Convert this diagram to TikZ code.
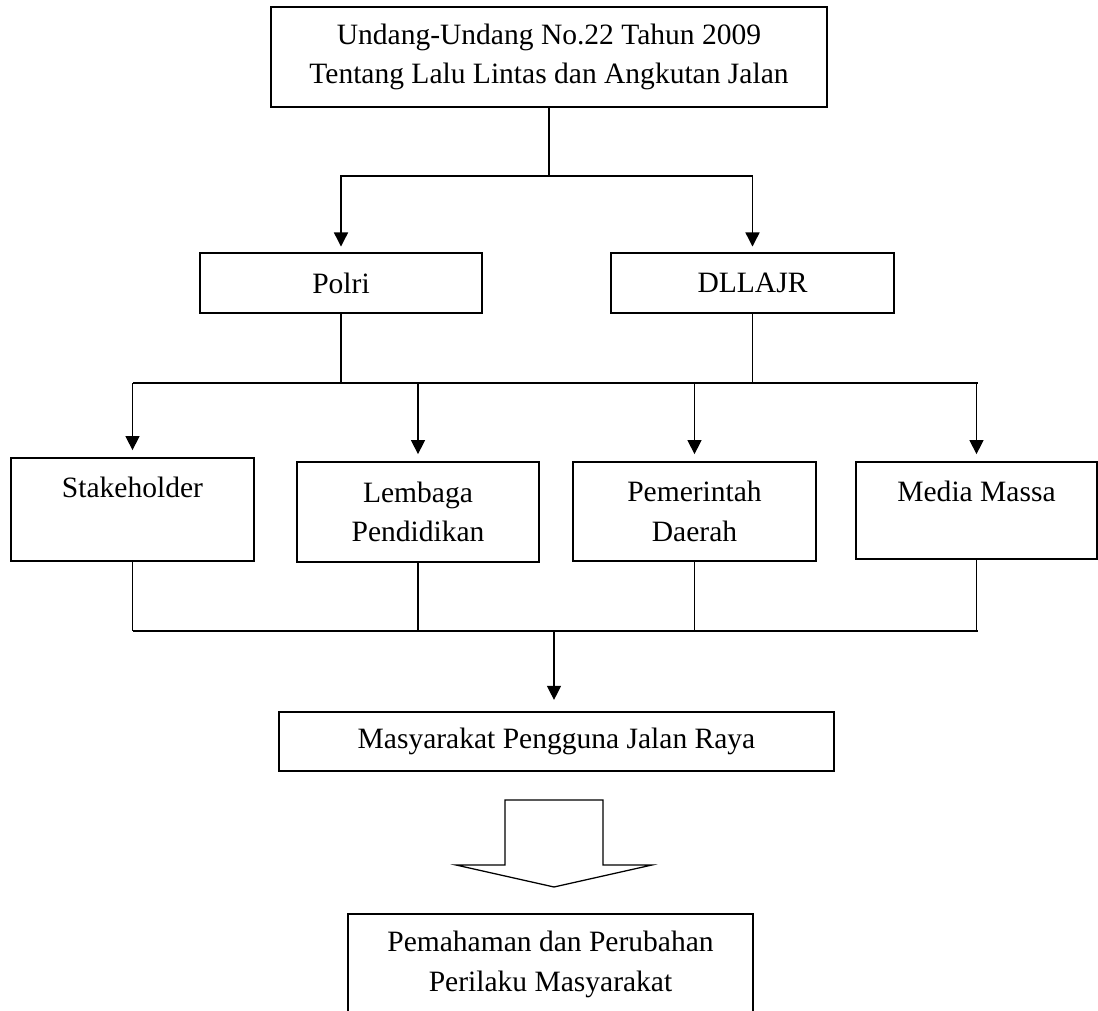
\documentclass[tikz,border=0pt]{standalone}
\usepackage{fontspec}
\setmainfont{Liberation Serif}
\usetikzlibrary{arrows.meta,positioning}

\tikzset{
  box/.style={draw, line width=1.2pt, align=center, inner sep=0pt},
  line/.style={line width=0.9pt},
  >={Triangle[length=10pt,width=10pt]}
}

\begin{document}
\begin{tikzpicture}[font=\fontsize{21}{28}\selectfont]
  \useasboundingbox (0,0) rectangle (27.45,25.25);

  %% Undang-undang og de to instansene
  \node[box, minimum width=13.9cm, minimum height=2.5cm] (uu) at (13.725,23.825)
    {Undang-Undang No.22 Tahun 2009\\Tentang Lalu Lintas dan Angkutan Jalan};
  \node[box, minimum width=7.05cm, minimum height=1.5cm] (polri) at (8.525,18.175) {Polri};
  \node[box, minimum width=7.075cm, minimum height=1.5cm] (dllajr) at (18.8125,18.175) {DLLAJR};

  \coordinate (split) at (13.725,20.85);
  \draw[line] (uu.south) -- (split);
  \draw[line, ->, shorten >=4pt] (split) -| (polri);
  \draw[line, ->, shorten >=4pt] (split) -| (dllajr);

  %% Fire mottakere
  \node[box, minimum width=6.075cm, minimum height=2.575cm] (stake) at (3.3125,12.5125) {};
  \node (staketext) at (3.3125,13.075) {Stakeholder};
  \node[box, minimum width=6.05cm, minimum height=2.5cm] (lembaga) at (10.45,12.45) {Lembaga\\Pendidikan};
  \node[box, minimum width=6.075cm, minimum height=2.475cm] (pemda) at (17.3625,12.4625) {Pemerintah\\Daerah};
  \node[box, minimum width=6.025cm, minimum height=2.425cm] (media) at (24.4125,12.4875) {};
  \node (mediatext) at (24.4125,12.975) {Media Massa};

  \coordinate (busAl) at (3.325,15.675);
  \coordinate (busAr) at (24.45,15.675);
  \draw[line] (polri.south) -- (polri.south |- busAl);
  \draw[line] (dllajr.south) -- (dllajr.south |- busAl);
  \draw[line] (busAl) -- (busAr);
  \foreach \n in {stake,lembaga,pemda,media}
    \draw[line, ->, shorten >=5pt] (\n.north |- busAl) -- (\n.north);

  % samles opp igjen
  \coordinate (busBl) at (3.325,9.475);
  \coordinate (busBr) at (24.45,9.475);
  \foreach \n in {stake,lembaga,pemda,media}
    \draw[line] (\n.south) -- (\n.south |- busBl);
  \draw[line] (busBl) -- (busBr);

  \node[box, minimum width=13.875cm, minimum height=1.475cm] (masy) at (13.9125,6.7125) {Masyarakat Pengguna Jalan Raya};
  \coordinate (join) at (13.85,9.475);
  \draw[line, ->, shorten >=8pt] (join) -- (join |- masy.north);

  %% Blokkpil og resultat
  \draw[line] (12.625,5.25) -- (15.075,5.25) -- (15.075,3.625) -- (16.3,3.625)
    -- (13.85,3.075) -- (11.4,3.625) -- (12.625,3.625) -- cycle;
  \node[box, minimum width=10.125cm, minimum height=2.525cm] (hasil) at (13.7625,1.1375)
    {Pemahaman dan Perubahan\\Perilaku Masyarakat};
\end{tikzpicture}
\end{document}
